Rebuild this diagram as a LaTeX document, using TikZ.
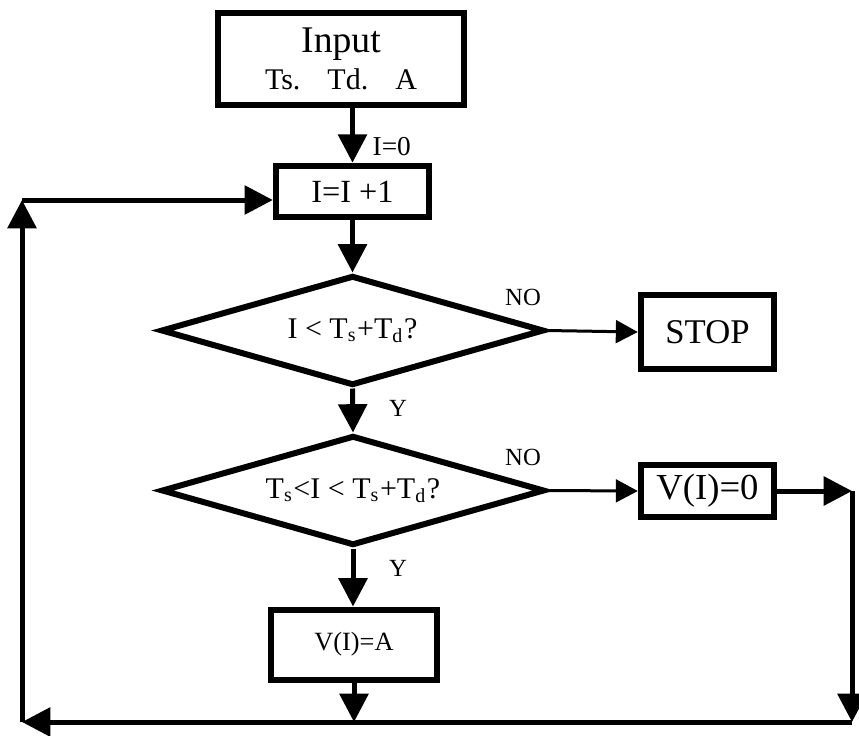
\documentclass[tikz,border=0pt]{standalone}
\usepackage{fontspec}
\setmainfont{Liberation Serif}
\usetikzlibrary{shapes.geometric,arrows.meta}

\begin{document}
\begin{tikzpicture}[x=0.3pt,y=-0.3pt,
  box/.style={draw,line width=1.8pt,inner sep=0pt},
  decision/.style={draw,diamond,line width=1.8pt,inner sep=0pt,aspect=3.4},
  flow/.style={line width=1.5pt,-{Triangle[length=8.5pt,width=8.5pt]}},
  noflow/.style={line width=0.9pt,-{Triangle[length=6.6pt,width=6.8pt]}},
  tag/.style={font=\fontsize{7.4}{9}\selectfont,inner sep=0pt}]
\useasboundingbox (0,0) rectangle (859,735);
% boxes and decisions
\node[box,minimum width=74pt,minimum height=27.8pt,align=center] (input) at (341,59)
  {{\fontsize{11.3}{11}\selectfont Input}\\[-1pt]{\fontsize{9}{10}\selectfont Ts.\hspace{0.9em}Td.\hspace{0.9em}A}};
\node[box,minimum width=46pt,minimum height=15.5pt,font=\fontsize{9.7}{11}\selectfont] (inc) at (352.5,191.5) {I=I +1};
\node[decision,minimum width=115pt,minimum height=33pt,font=\fontsize{9}{11}\selectfont] (dec1) at (352.5,330.5)
  {I < T\textsubscript{s}+T\textsubscript{d}?};
\node[box,minimum width=40pt,minimum height=22.4pt,font=\fontsize{10.4}{12}\selectfont] (stop) at (707.5,332) {STOP};
\node[decision,minimum width=115pt,minimum height=33pt,font=\fontsize{9}{11}\selectfont] (dec2) at (353,490.5)
  {T\textsubscript{s}<I < T\textsubscript{s}+T\textsubscript{d}?};
\node[box,minimum width=40pt,minimum height=15.8pt,font=\fontsize{11}{12}\selectfont] (vzero) at (707.5,491) {V(I)=0};
\node[box,minimum width=50pt,minimum height=21pt,font=\fontsize{7.9}{9}\selectfont] (vA) at (354,644.5) {V(I)=A};
% loop corners
\coordinate (rt) at (852,491);
\coordinate (rb) at (852,722);
\coordinate (lb) at (22,722);
\coordinate (lt) at (22,200);
% labels
\node[tag,anchor=west,font=\fontsize{8.2}{10}\selectfont] (izero) at (372,147) {I=0};
\node[tag] (no1) at (523,297) {NO};
\node[tag] (y1) at (398,408) {Y};
\node[tag] (no2) at (523,457) {NO};
\node[tag] (y2) at (398,568) {Y};
% connectors
\draw[flow] (input.south -| inc.north) -- (inc.north);
\draw[flow] (inc.south) -- (dec1.north);
\draw[noflow] (dec1.east) -- (stop.west);
\draw[flow] (dec1.south) -- (dec2.north);
\draw[noflow] (dec2.east) -- (vzero.west);
\draw[flow] (dec2.south) -- (dec2.south |- vA.north);
\draw[flow] (vA.south) -- (vA.south |- rb);
\draw[flow] (vzero.east) -- (rt);
\draw[flow] (rt) -- (rb);
\draw[flow] (rb) -- (lb);
\draw[flow] (lb) -- (lt);
\draw[flow] (lt) -- (inc.west |- lt);
\end{tikzpicture}
\end{document}
